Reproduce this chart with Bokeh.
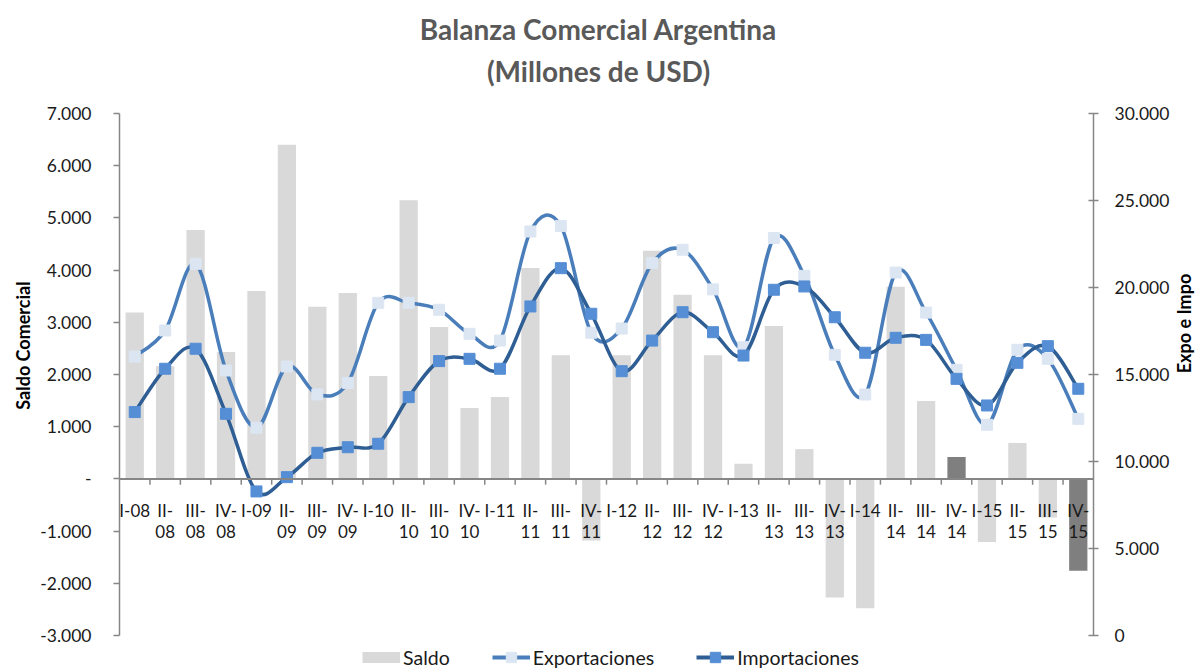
import numpy as np
from bokeh.plotting import figure
from bokeh.layouts import row
from bokeh.models import (Range1d, LinearAxis, FixedTicker, Span, Legend, LegendItem,
                          Label, ColumnDataSource, CDSView, IndexFilter)
from bokeh.core.properties import value
from bokeh.embed import file_html
from bokeh.resources import INLINE

# ---------------- data ----------------
categories = ["I-08", "II-08", "III-08", "IV-08",
              "I-09", "II-09", "III-09", "IV-09",
              "I-10", "II-10", "III-10", "IV-10",
              "I-11", "II-11", "III-11", "IV-11",
              "I-12", "II-12", "III-12", "IV-12",
              "I-13", "II-13", "III-13", "IV-13",
              "I-14", "II-14", "III-14", "IV-14",
              "I-15", "II-15", "III-15", "IV-15"]

saldo = [3190, 2160, 4770, 2430,
         3600, 6400, 3300, 3560,
         1970, 5340, 2910, 1360,
         1570, 4040, 2370, -1180,
         2370, 4370, 3530, 2370,
         290, 2930, 570, -2270,
         -2480, 3680, 1490, 420,
         -1210, 690, -740, -1760]

exportaciones = [16030, 17530, 21360, 15230,
                 11940, 15460, 13850, 14520,
                 19120, 19120, 18720, 17340,
                 16950, 23220, 23540, 17400,
                 17640, 21400, 22170, 19890,
                 16570, 22840, 20670, 16130,
                 13850, 20860, 18560, 15270,
                 12110, 16420, 15900, 12450]

importaciones = [12840, 15330, 16480, 12740,
                 8280, 9100, 10500, 10820,
                 11020, 13700, 15770, 15900,
                 15330, 18910, 21110, 18490,
                 15190, 16950, 18580, 17430,
                 16090, 19870, 20060, 18290,
                 16250, 17110, 16990, 14750,
                 13220, 15670, 16630, 14180]

left_ticks = [-3000, -2000, -1000, 0, 1000, 2000, 3000, 4000, 5000, 6000, 7000]
right_ticks = [0, 5000, 10000, 15000, 20000, 25000, 30000]
highlighted = ["IV-14", "IV-15"]

title_text = "Balanza Comercial Argentina"
subtitle_text = "(Millones de USD)"
left_label = "Saldo Comercial"
right_label = "Expo e Impo"

# ---------------- layout constants ----------------
FONT = "Lato"
AXIS_COLOR = "#868686"
TEXT_COLOR = "#1a1a1a"
TICK_FS = "17.5px"
H = 671
PLOT_TOP, PLOT_H = 113, 522          # pixel extent of the axes' span
SIDE_L, SIDE_R = 36, 25              # narrow side panels for the axis titles
BORDER_L, FRAME_W, BORDER_R = 83, 978, 75


def fmt(v, zero):
    if v == 0:
        return zero
    return f"{v:,}".replace(",", ".")


def padded_range(lo, hi):
    per_px = (hi - lo) / PLOT_H
    return Range1d(lo - (H - PLOT_TOP - PLOT_H) * per_px, hi + PLOT_TOP * per_px)


def smooth_segments(xs, ys):
    P = np.column_stack([xs, ys]).astype(float)
    Pm = np.vstack([P[0], P, P[-1]])
    i = np.arange(len(P) - 1)
    p0 = Pm[i + 1]
    p1 = Pm[i + 2]
    c0 = p0 + (p1 - Pm[i]) / 6.0
    c1 = p1 - (Pm[i + 3] - p0) / 6.0
    return ColumnDataSource(dict(x0=p0[:, 0], y0=p0[:, 1], x1=p1[:, 0], y1=p1[:, 1],
                                 cx0=c0[:, 0], cy0=c0[:, 1], cx1=c1[:, 0], cy1=c1[:, 1]))


def legend_only():
    # a single point: a line through one point draws nothing on the plot,
    # but the legend can still draw its swatch from it
    return CDSView(filter=IndexFilter(indices=[0]))


n = len(categories)
xs = np.arange(n) + 0.5
bar_colors = ["#7f7f7f" if c in highlighted else "#d9d9d9" for c in categories]
line1 = [c if c.startswith("I-") else c.split("-")[0] + "-" for c in categories]
line2 = ["" if c.startswith("I-") else c.split("-")[1] for c in categories]

# ---------------- main figure ----------------
p = figure(width=BORDER_L + FRAME_W + BORDER_R, height=H, output_backend="svg",
           toolbar_location=None, x_range=Range1d(0, n),
           y_range=padded_range(left_ticks[0], left_ticks[-1]),
           x_axis_location=None, title=None,
           min_border_left=BORDER_L, min_border_right=BORDER_R, min_border_top=0,
           min_border_bottom=0)
p.extra_y_ranges = {"r": padded_range(right_ticks[0], right_ticks[-1])}
p.outline_line_color = None
p.grid.visible = False
p.background_fill_color = "white"

# left axis
ya = p.yaxis[0]
ya.ticker = FixedTicker(ticks=left_ticks)
ya.bounds = (left_ticks[0], left_ticks[-1])
ya.major_label_overrides = {t: fmt(t, "-") for t in left_ticks}
ya.major_label_text_font = FONT
ya.major_label_text_font_size = TICK_FS
ya.major_label_text_color = TEXT_COLOR
ya.major_label_standoff = 22
ya.axis_line_color = AXIS_COLOR
ya.axis_line_width = 1.5
ya.major_tick_line_color = AXIS_COLOR
ya.major_tick_line_width = 1.5
ya.major_tick_out = 6
ya.major_tick_in = 0
ya.minor_tick_line_color = None

# right axis
ra = LinearAxis(y_range_name="r", ticker=FixedTicker(ticks=right_ticks),
                bounds=(right_ticks[0], right_ticks[-1]))
ra.major_label_overrides = {t: fmt(t, "0") for t in right_ticks}
ra.major_label_text_font = FONT
ra.major_label_text_font_size = TICK_FS
ra.major_label_text_color = TEXT_COLOR
ra.major_label_standoff = 16
ra.axis_line_color = AXIS_COLOR
ra.axis_line_width = 1.5
ra.major_tick_line_color = AXIS_COLOR
ra.major_tick_line_width = 1.5
ra.major_tick_out = 5
ra.major_tick_in = 5
ra.minor_tick_line_color = None
p.add_layout(ra, "right")

# titles (inside the tall frame, above the plotted span)
for txt, dy in [(title_text, 85), (subtitle_text, 43)]:
    p.add_layout(Label(x=n / 2, y=left_ticks[-1], x_offset=-8, y_offset=dy, text=txt,
                       text_font=FONT, text_font_size="28px", text_font_style="bold",
                       text_color="#595959", text_align="center", text_baseline="middle"))

# bars
bars = p.vbar(x=xs, top=saldo, width=0.6, fill_color=bar_colors, line_color=None)

# zero line and category ticks
p.add_layout(Span(location=0, dimension="width", line_color=AXIS_COLOR, line_width=2))
bx = np.arange(1, n)
p.segment(x0=bx, y0=np.zeros(n - 1), x1=bx, y1=np.full(n - 1, -110),
          line_color=AXIS_COLOR, line_width=1.5)

# category labels
p.text(x=xs, y=np.full(n, -600), text=line1, text_align="center", text_baseline="middle",
       text_font=value(FONT), text_font_size="17px", text_color=TEXT_COLOR)
p.text(x=xs, y=np.full(n, -1010), text=line2, text_align="center", text_baseline="middle",
       text_font=value(FONT), text_font_size="17px", text_color=TEXT_COLOR)

# lines
EXP_LINE = "#4a7ebb"
EXP_MARK = "#dce6f2"
IMP_LINE = "#2e5e93"
IMP_MARK = "#558ed5"

p.bezier(x0="x0", y0="y0", x1="x1", y1="y1", cx0="cx0", cy0="cy0", cx1="cx1", cy1="cy1",
         source=smooth_segments(xs, exportaciones), line_color=EXP_LINE, line_width=3.5,
         line_cap="round", y_range_name="r")
exp_leg_line = p.line(x=xs, y=exportaciones, line_color=EXP_LINE, line_width=4,
                      y_range_name="r", view=legend_only())
exp_marks = p.scatter(x=xs, y=exportaciones, marker="square", size=11, fill_color=EXP_MARK,
                      line_color=EXP_MARK, y_range_name="r")

p.bezier(x0="x0", y0="y0", x1="x1", y1="y1", cx0="cx0", cy0="cy0", cx1="cx1", cy1="cy1",
         source=smooth_segments(xs, importaciones), line_color=IMP_LINE, line_width=3.5,
         line_cap="round", y_range_name="r")
imp_leg_line = p.line(x=xs, y=importaciones, line_color=IMP_LINE, line_width=4,
                      y_range_name="r", view=legend_only())
imp_marks = p.scatter(x=xs, y=importaciones, marker="square", size=11, fill_color=IMP_MARK,
                      line_color=IMP_MARK, y_range_name="r")

# legend swatch for the bars (a thick grey stroke drawn like Excel's box)
saldo_swatch = p.line(x=xs, y=saldo, line_color="#d9d9d9", line_width=11, line_cap="butt",
                      view=legend_only())

legend = Legend(items=[LegendItem(label="Saldo", renderers=[saldo_swatch], index=0),
                       LegendItem(label="Exportaciones", renderers=[exp_leg_line, exp_marks], index=0),
                       LegendItem(label="Importaciones", renderers=[imp_leg_line, imp_marks], index=0)],
                orientation="horizontal", location=(243, 1), border_line_color=None,
                background_fill_alpha=0, label_text_font=FONT, label_text_font_size="19.5px",
                label_text_color=TEXT_COLOR, glyph_width=38, glyph_height=26, spacing=42,
                padding=0, margin=0, label_standoff=3, label_height=22)
p.add_layout(legend, "center")


# ---------------- narrow side panels carrying the axis titles ----------------
def side_title(width, text, cx, cy):
    f = figure(width=width, height=H, output_backend="svg", toolbar_location=None,
               x_range=Range1d(0, width), y_range=Range1d(0, H),
               x_axis_location=None, y_axis_location=None, title=None,
               min_border_left=0, min_border_right=0, min_border_top=0, min_border_bottom=0)
    f.outline_line_color = None
    f.grid.visible = False
    f.text(x=[cx], y=[H - cy], text=[text], angle=np.pi / 2, text_align="center",
           text_baseline="middle", text_font=value(FONT), text_font_size="18px",
           text_font_style="bold", text_color="black")
    return f


left_panel = side_title(SIDE_L, left_label, 22.5, 345)
right_panel = side_title(SIDE_R, right_label, 1183.5 - (SIDE_L + BORDER_L + FRAME_W + BORDER_R), 323)

layout = row(left_panel, p, right_panel, spacing=0)
open("out.html", "w").write(file_html(layout, INLINE))
